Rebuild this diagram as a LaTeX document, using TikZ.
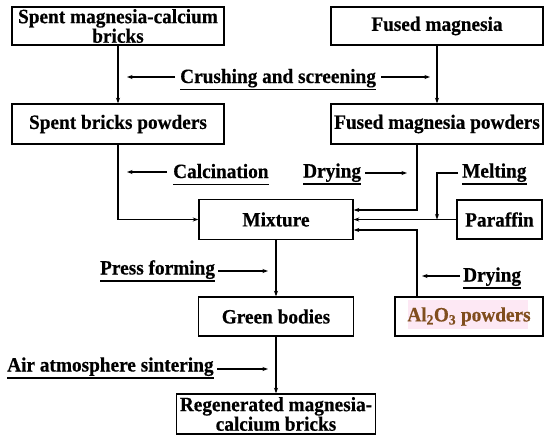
\documentclass[tikz,border=0pt]{standalone}
\usepackage{fontspec}
\setmainfont[FakeStretch=0.95,FakeBold=0.5]{Liberation Serif}
\usetikzlibrary{arrows.meta}
\definecolor{alcol}{RGB}{128,78,30}
\definecolor{hl}{RGB}{253,232,244}
\begin{document}
\begin{tikzpicture}[x=1pt,y=-1pt,
  every node/.style={font=\bfseries\fontsize{20.3}{17.7}\selectfont},
  box/.style={draw,line width=1.4pt,inner sep=0pt,align=center},
  lbl/.style={anchor=base west,inner sep=0pt},
  arr/.style={line width=1.1pt,-{Stealth[length=5.5pt,width=4pt]}},
  uline/.style={line width=1.1pt}
]
\useasboundingbox (0,0) rectangle (550,440);

% highlight behind Al2O3 text
\fill[hl] (408,300) rectangle (528,329);

% boxes
\node[box,minimum width=212pt,minimum height=38pt] (b1) at (118,26) {Spent magnesia-calcium\\bricks};
\node[box,minimum width=212pt,minimum height=38pt] (b2) at (437,26) {Fused magnesia};
\node[box,minimum width=212pt,minimum height=40pt] (b3) at (118,124) {Spent bricks powders};
\node[box,minimum width=212pt,minimum height=40pt] (b4) at (437,124) {Fused magnesia powders};
\node[box,minimum width=154pt,minimum height=40pt] (mix) at (276,219.5) {Mixture};
\node[box,minimum width=85pt,minimum height=39pt] (par) at (499.5,219.5) {Paraffin};
\node[box,minimum width=155pt,minimum height=39pt] (gb) at (276,316.5) {Green bodies};
\node[box,minimum width=148pt,minimum height=39pt,text=alcol] (al) at (469,316.5) {Al\textsubscript{2}O\textsubscript{3} powders};
\node[box,minimum width=199pt,minimum height=40pt] (reg) at (276,414) {Regenerated magnesia-\\calcium bricks};

% main connectors
\draw[arr] (b1) -- (b3);
\draw[arr] (b2) -- (b4);
\draw[arr] (b3.south) |- (mix.west);
\draw[arr] ([xshift=-20pt]b4.south) |- ([yshift=9.5pt]mix.east);
\draw[arr] (par.west) -- (par.west -| mix.east);
\draw[arr] ([xshift=-52pt]al.north) |- ([yshift=-10.5pt]mix.east);
\draw[arr] (mix) -- (gb);
\draw[arr] (gb) -- (reg);

% labels
\node[lbl] (crush) at (180,83) {Crushing and screening};
\node[lbl] (calc) at (173,178) {Calcination};
\node[lbl] (dry1) at (303,177.5) {Drying};
\node[lbl] (melt) at (462,177.5) {Melting};
\node[lbl] (press) at (100,274.5) {Press forming};
\node[lbl] (dry2) at (463,281.5) {Drying};
\node[lbl] (air) at (7,371.5) {Air atmosphere sintering};

\foreach \n in {crush,calc,dry1,melt,press,dry2,air}
  \draw[uline] ([yshift=-6.5pt]\n.base west) -- ([yshift=-6.5pt]\n.base east);

% label arrows
\coordinate (c1s) at (175,77);  \coordinate (c1e) at (127,77);
\coordinate (c2s) at (381,77);  \coordinate (c2e) at (430,77);
\coordinate (cas) at (167,172); \coordinate (cae) at (127,172);
\coordinate (d1s) at (365,173); \coordinate (d1e) at (407,173);
\coordinate (ps)  at (218,271); \coordinate (pe)  at (268,271);
\coordinate (d2s) at (460,276); \coordinate (d2e) at (422,276);
\coordinate (as)  at (217,369); \coordinate (ae)  at (268,369);
\coordinate (ms)  at (458,173);
\draw[arr] (c1s) -- (c1e);
\draw[arr] (c2s) -- (c2e);
\draw[arr] (cas) -- (cae);
\draw[arr] (d1s) -- (d1e);
\draw[arr] (ps) -- (pe);
\draw[arr] (d2s) -- (d2e);
\draw[arr] (as) -- (ae);
\draw[arr] (ms) -| (par.west -| b4.south);
\end{tikzpicture}
\end{document}
